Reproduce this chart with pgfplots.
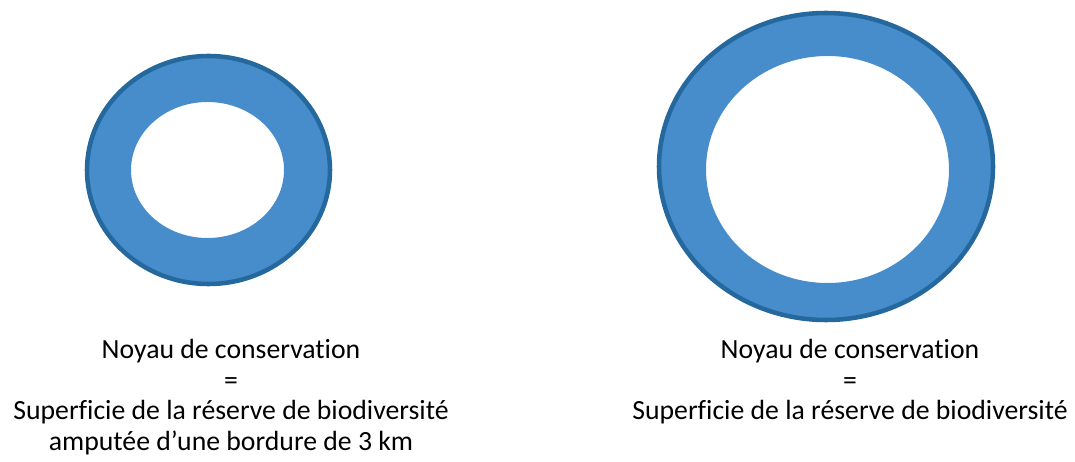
\documentclass[border=0pt]{standalone}
\usepackage{fontspec}
\setmainfont{Carlito}[Ligatures=NoCommon]
\usepackage{pgfplots}
\pgfplotsset{compat=1.18}
\definecolor{ringfill}{RGB}{71,140,203}
\definecolor{ringedge}{RGB}{37,104,158}
\begin{document}
\begin{tikzpicture}
\begin{axis}[width=806.25pt,height=345.75pt,scale only axis,
  xmin=0,xmax=1075,ymin=0,ymax=461,hide axis,clip=false]
\path (axis cs:0,0) rectangle (axis cs:1075,461);
% left ring
\fill[ringfill,even odd rule] (axis cs:208.5,291) ellipse [x radius=121.5,y radius=114]
  (axis cs:207.5,291) ellipse [x radius=76.5,y radius=68];
\draw[ringedge,line width=3.4pt] (axis cs:208.5,291) ellipse [x radius=121.5,y radius=114];
% right ring
\fill[ringfill,even odd rule] (axis cs:826,294.5) ellipse [x radius=167,y radius=153.5]
  (axis cs:827.5,291.5) ellipse [x radius=121.5,y radius=113.5];
\draw[ringedge,line width=3.4pt] (axis cs:826,294.5) ellipse [x radius=167,y radius=153.5];
% texts
\tikzset{lbl/.style={anchor=base,inner sep=0pt,font=\fontsize{20.8}{24}\selectfont}}
\node[lbl] at (axis cs:231,102.5) {Noyau de conservation};
\node[lbl] at (axis cs:231,71.5) {=};
\node[lbl] at (axis cs:231,41.5) {Superficie de la réserve de biodiversité};
\node[lbl] at (axis cs:231,10.5) {amputée d’une bordure de 3 km};
\node[lbl] at (axis cs:850,102.5) {Noyau de conservation};
\node[lbl] at (axis cs:850,71.5) {=};
\node[lbl] at (axis cs:850,41.5) {Superficie de la réserve de biodiversité};
\end{axis}
\end{tikzpicture}
\end{document}
